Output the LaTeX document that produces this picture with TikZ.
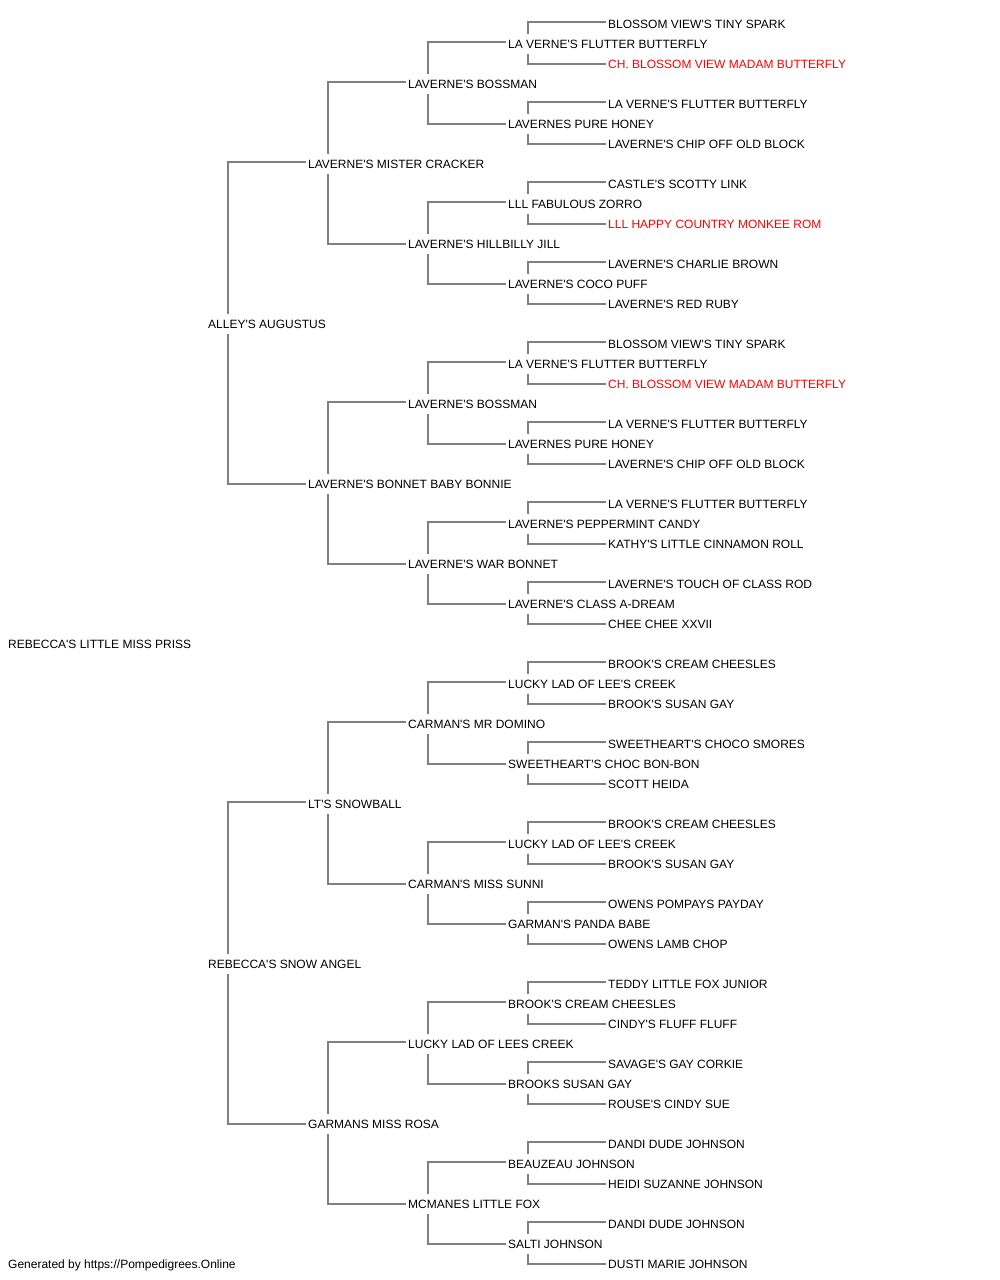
\documentclass[tikz,border=0pt]{standalone}
\usepackage{fontspec}
\setmainfont{Liberation Sans}[Ligatures=TeXOff]
\definecolor{lncol}{RGB}{128,128,128}
\definecolor{redname}{RGB}{255,0,0}
\tikzset{
  nm/.style={anchor=base west, inner sep=0pt, text height=14pt, text depth=6pt, font=\fontsize{12}{14}\selectfont},
  rd/.style={nm, text=redname},
  ln/.style={draw=lncol, line width=2pt},
}
\newcommand{\Nm}[4][nm]{\pgfmathsetmacro\yy{28+20*#3}\node[#1] (r#3) at (#2,\yy) {#4};}
\begin{document}
\begin{tikzpicture}[x=1pt,y=-1pt]
\useasboundingbox (0,0) rectangle (1000,1280);
\Nm{608}{0}{BLOSSOM VIEW'S TINY SPARK}
\Nm{508}{1}{LA VERNE'S FLUTTER BUTTERFLY}
\Nm[rd]{608}{2}{CH. BLOSSOM VIEW MADAM BUTTERFLY}
\Nm{408}{3}{LAVERNE'S BOSSMAN}
\Nm{608}{4}{LA VERNE'S FLUTTER BUTTERFLY}
\Nm{508}{5}{LAVERNES PURE HONEY}
\Nm{608}{6}{LAVERNE'S CHIP OFF OLD BLOCK}
\Nm{308}{7}{LAVERNE'S MISTER CRACKER}
\Nm{608}{8}{CASTLE'S SCOTTY LINK}
\Nm{508}{9}{LLL FABULOUS ZORRO}
\Nm[rd]{608}{10}{LLL HAPPY COUNTRY MONKEE ROM}
\Nm{408}{11}{LAVERNE'S HILLBILLY JILL}
\Nm{608}{12}{LAVERNE'S CHARLIE BROWN}
\Nm{508}{13}{LAVERNE'S COCO PUFF}
\Nm{608}{14}{LAVERNE'S RED RUBY}
\Nm{208}{15}{ALLEY'S AUGUSTUS}
\Nm{608}{16}{BLOSSOM VIEW'S TINY SPARK}
\Nm{508}{17}{LA VERNE'S FLUTTER BUTTERFLY}
\Nm[rd]{608}{18}{CH. BLOSSOM VIEW MADAM BUTTERFLY}
\Nm{408}{19}{LAVERNE'S BOSSMAN}
\Nm{608}{20}{LA VERNE'S FLUTTER BUTTERFLY}
\Nm{508}{21}{LAVERNES PURE HONEY}
\Nm{608}{22}{LAVERNE'S CHIP OFF OLD BLOCK}
\Nm{308}{23}{LAVERNE'S BONNET BABY BONNIE}
\Nm{608}{24}{LA VERNE'S FLUTTER BUTTERFLY}
\Nm{508}{25}{LAVERNE'S PEPPERMINT CANDY}
\Nm{608}{26}{KATHY'S LITTLE CINNAMON ROLL}
\Nm{408}{27}{LAVERNE'S WAR BONNET}
\Nm{608}{28}{LAVERNE'S TOUCH OF CLASS ROD}
\Nm{508}{29}{LAVERNE'S CLASS A-DREAM}
\Nm{608}{30}{CHEE CHEE XXVII}
\Nm{8}{31}{REBECCA'S LITTLE MISS PRISS}
\Nm{608}{32}{BROOK'S CREAM CHEESLES}
\Nm{508}{33}{LUCKY LAD OF LEE'S CREEK}
\Nm{608}{34}{BROOK'S SUSAN GAY}
\Nm{408}{35}{CARMAN'S MR DOMINO}
\Nm{608}{36}{SWEETHEART'S CHOCO SMORES}
\Nm{508}{37}{SWEETHEART'S CHOC BON-BON}
\Nm{608}{38}{SCOTT HEIDA}
\Nm{308}{39}{LT'S SNOWBALL}
\Nm{608}{40}{BROOK'S CREAM CHEESLES}
\Nm{508}{41}{LUCKY LAD OF LEE'S CREEK}
\Nm{608}{42}{BROOK'S SUSAN GAY}
\Nm{408}{43}{CARMAN'S MISS SUNNI}
\Nm{608}{44}{OWENS POMPAYS PAYDAY}
\Nm{508}{45}{GARMAN'S PANDA BABE}
\Nm{608}{46}{OWENS LAMB CHOP}
\Nm{208}{47}{REBECCA'S SNOW ANGEL}
\Nm{608}{48}{TEDDY LITTLE FOX JUNIOR}
\Nm{508}{49}{BROOK'S CREAM CHEESLES}
\Nm{608}{50}{CINDY'S FLUFF FLUFF}
\Nm{408}{51}{LUCKY LAD OF LEES CREEK}
\Nm{608}{52}{SAVAGE'S GAY CORKIE}
\Nm{508}{53}{BROOKS SUSAN GAY}
\Nm{608}{54}{ROUSE'S CINDY SUE}
\Nm{308}{55}{GARMANS MISS ROSA}
\Nm{608}{56}{DANDI DUDE JOHNSON}
\Nm{508}{57}{BEAUZEAU JOHNSON}
\Nm{608}{58}{HEIDI SUZANNE JOHNSON}
\Nm{408}{59}{MCMANES LITTLE FOX}
\Nm{608}{60}{DANDI DUDE JOHNSON}
\Nm{508}{61}{SALTI JOHNSON}
\Nm{608}{62}{DUSTI MARIE JOHNSON}
\node[nm] (footer) at (8,1268) {Generated by https://Pompedigrees.Online};
% connectors: parent at row p, children at p-k and p+k
\foreach \p/\k in {1/1,5/1,9/1,13/1,17/1,21/1,25/1,29/1,33/1,37/1,41/1,45/1,49/1,53/1,57/1,61/1,
                   3/2,11/2,19/2,27/2,35/2,43/2,51/2,59/2,
                   7/4,23/4,39/4,55/4,
                   15/8,47/8} {
  \pgfmathtruncatemacro\s{\p-\k}
  \pgfmathtruncatemacro\d{\p+\k}
  \draw[ln] ([xshift=20pt]r\p.north west) |- ([xshift=-2pt,yshift=2pt]r\s.west);
  \draw[ln] ([xshift=20pt]r\p.south west) |- ([xshift=-2pt]r\d.west);
}
\end{tikzpicture}
\end{document}
